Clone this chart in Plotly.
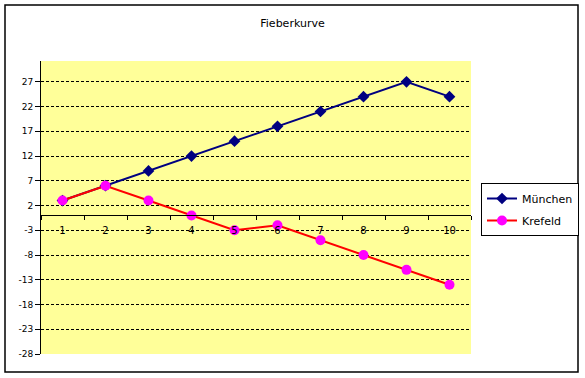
import plotly.graph_objects as go

categories = ["1", "2", "3", "4", "5", "6", "7", "8", "9", "10"]
muenchen = [3, 6, 9, 12, 15, 18, 21, 24, 27, 24]
krefeld = [3, 6, 3, 0, -3, -2, -5, -8, -11, -14]
y_ticks = [-28, -23, -18, -13, -8, -3, 2, 7, 12, 17, 22, 27]

W, H = 585, 378
L, R, T, B = 41, 471, 61, 354
ymin, ymax = -28, 31.2

font_family = "DejaVu Sans, Verdana, sans-serif"

fig = go.Figure()
fig.add_trace(go.Scatter(
    x=categories, y=muenchen, name="München", mode="lines+markers",
    legendgroup="m",
    line=dict(color="#000080", width=2),
    marker=dict(symbol="diamond", size=9, color="#000080"),
))
fig.add_trace(go.Scatter(
    x=categories, y=krefeld, name="Krefeld", mode="lines+markers",
    legendgroup="k",
    line=dict(color="#FF0000", width=2),
    marker=dict(symbol="circle", size=10, color="#FF00FF"),
))

pw, ph = R - L, B - T
def px(xp):
    return (xp - L) / pw
def py(yp):
    return (B - yp) / ph

fig.update_layout(
    width=W, height=H,
    margin=dict(l=L, r=W - R, t=T, b=H - B, pad=0, autoexpand=False),
    paper_bgcolor="white",
    plot_bgcolor="#FFFF99",
    font=dict(family=font_family, size=10, color="black"),
    title=dict(text="Fieberkurve", x=0.5, xref="container", xanchor="center",
               y=1 - 23 / H, yref="container", yanchor="middle",
               font=dict(size=11, family=font_family, color="black")),
    showlegend=True,
    legend=dict(x=px(481), y=py(183), xanchor="left", yanchor="top",
                bordercolor="black", borderwidth=1, bgcolor="white",
                font=dict(size=11, family=font_family), tracegroupgap=3,
                itemwidth=30),
    xaxis=dict(type="category", anchor="free", position=(0 - ymin) / (ymax - ymin),
               range=[-0.5, len(categories) - 0.5],
               showline=True, linecolor="black", linewidth=1,
               ticks="outside", ticklen=4, tickcolor="black", tickson="boundaries",
               ticklabelstandoff=6,
               showgrid=False, zeroline=False, tickfont=dict(size=10),
               fixedrange=True),
    yaxis=dict(range=[ymin, ymax], tickvals=y_ticks, ticktext=[str(v) for v in y_ticks],
               showline=True, linecolor="black", linewidth=1,
               ticks="outside", ticklen=5, tickcolor="black",
               showgrid=True, gridcolor="black", gridwidth=1, griddash="3px,2px",
               zeroline=False, tickfont=dict(size=9)),
    shapes=[dict(type="rect", xref="paper", yref="paper",
                 x0=px(5), x1=px(578), y0=py(372), y1=py(5),
                 line=dict(color="black", width=1.5), fillcolor="rgba(0,0,0,0)",
                 layer="below")],
)

fig.write_html("out.html", config={"displayModeBar": False},
               post_script="document.body.style.margin='0';")
